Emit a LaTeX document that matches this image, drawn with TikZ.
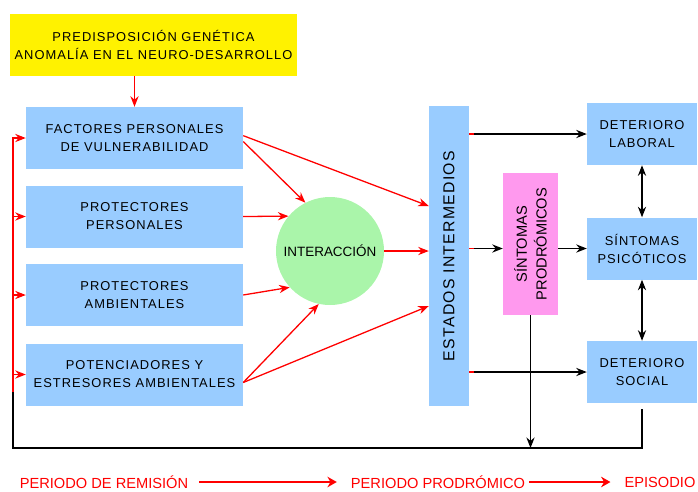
\documentclass[tikz,border=0pt]{standalone}
\usepackage{fontspec}
\setmainfont{Liberation Sans}
\newfontfamily\spacedfont[LetterSpace=8]{Liberation Sans}
\usetikzlibrary{arrows.meta, calc}
\newcommand{\pxu}{0.03cm}
\definecolor{boxblue}{RGB}{153,204,255}
\definecolor{boxpink}{RGB}{255,153,238}
\definecolor{circgreen}{RGB}{170,245,170}
\tikzset{
  bluebox/.style={fill=boxblue, minimum width=217*\pxu, minimum height=62*\pxu,
    align=center, inner sep=0pt, font=\spacedfont\fontsize{11}{15.4}\selectfont},
  rightbox/.style={bluebox, minimum width=110*\pxu},
  redarr/.style={red, line width=1.1pt, -{Stealth[length=9pt,width=7pt]}},
  blkarr/.style={black, line width=1.1pt, -{Stealth[length=9pt,width=7pt]}},
  fatarr/.style={red, line width=2.5pt, -{Stealth[length=8pt,width=9pt]}},
  redtext/.style={red, font=\fontsize{12.5}{15}\selectfont}
}

\begin{document}
\begin{tikzpicture}[x=\pxu, y=-\pxu]
  \useasboundingbox (0,0) rectangle (698,491);

  % Top box
  \node[fill=yellow, minimum width=287*\pxu, minimum height=62*\pxu, align=center,
        font=\spacedfont\fontsize{11}{16}\selectfont] (gen) at (153.5,45)
        {PREDISPOSICIÓN GENÉTICA\\ANOMALÍA EN EL NEURO-DESARROLLO};

  % Left column
  \node[bluebox] (fac) at (134.5,138) {FACTORES PERSONALES\\DE VULNERABILIDAD};
  \node[bluebox] (ppe) at (134.5,216.5) {PROTECTORES\\PERSONALES};
  \node[bluebox] (pam) at (134.5,295) {PROTECTORES\\AMBIENTALES};
  \node[bluebox] (pot) at (134.5,374.5) {POTENCIADORES Y\\ESTRESORES AMBIENTALES};

  % Interaction and intermediate states
  \node[circle, fill=circgreen, minimum size=108*\pxu, inner sep=0pt,
        font=\fontsize{11.5}{14}\selectfont] (int) at (330,251) {INTERACCIÓN};
  \node[fill=boxblue, minimum width=40*\pxu, minimum height=300*\pxu] (est) at (449,256) {};
  \node[rotate=90, font=\spacedfont\fontsize{13.5}{16}\selectfont] at (est) {ESTADOS INTERMEDIOS};
  \node[fill=boxpink, minimum width=55*\pxu, minimum height=142*\pxu] (sin) at (530.5,244) {};
  \node[rotate=90, align=center, font=\fontsize{12.5}{17}\selectfont] at (sin) {SÍNTOMAS\\PRODRÓMICOS};

  % Right column
  \node[rightbox] (lab) at (642,134) {DETERIORO\\LABORAL};
  \node[rightbox] (psi) at (642,248.5) {SÍNTOMAS\\PSICÓTICOS};
  \node[rightbox] (soc) at (642,372) {DETERIORO\\SOCIAL};

  % Red arrows
  \draw[redarr] (gen.south -| fac.north) -- (fac.north);
  \draw[redarr] ([yshift=2pt]fac.east) -- ($(est.west)+(0,-50)$);
  \draw[redarr] ([yshift=-3pt]fac.east) -- (int.117);
  \draw[redarr] (ppe.east) -- (int.140);
  \draw[redarr] (pam.east) -- (int.222);
  \draw[redarr] ([yshift=-0.24cm]pot.east) -- (int.258);
  \draw[redarr] ([yshift=-0.24cm]pot.east) -- ($(est.west)+(0,50)$);
  \draw[redarr] (int.east) -- (int.east -| est.west);

  % Black arrows
  \draw[blkarr] (est.east |- lab.west) -- (lab.west);
  \draw[blkarr] (est.east |- psi.west) -- (sin.west |- psi.west);
  \draw[blkarr] (sin.east |- psi.west) -- (psi.west);
  \draw[blkarr] (est.east |- soc.west) -- (soc.west);
  \foreach \b in {lab,psi,soc} {
    \draw[red, line width=1.1pt] (est.east |- \b.west) -- ++(5,0);
  }
  \draw[blkarr, {Stealth[length=9pt,width=7pt]}-{Stealth[length=9pt,width=7pt]}] (lab.south) -- (psi.north);
  \draw[blkarr, {Stealth[length=9pt,width=7pt]}-{Stealth[length=9pt,width=7pt]}] (psi.south) -- (soc.north);

  % Feedback loop
  \coordinate (bl) at (13,448);
  \coordinate (lft) at (13,392);
  \draw[black, line width=1.1pt] ([yshift=-5pt]soc.south) -- (soc.south |- bl) -- (bl) -- (lft);
  \draw[blkarr] (sin.south) -- (sin.south |- bl);
  \draw[redarr] (lft) -- (fac.west -| lft) -- (fac.west);
  \foreach \b in {ppe,pam,pot} {
    \draw[redarr] (\b.west -| lft) -- (\b.west);
  }

  % Periods
  \node[redtext] (rem) at (104,482) {PERIODO DE REMISIÓN};
  \node[redtext] (pro) at (438,482) {PERIODO PRODRÓMICO};
  \node[redtext] (epi) at (660,482) {EPISODIO};
  \draw[fatarr, shorten <=0.2cm, shorten >=0.3cm] (rem.east) -- (pro.west);
  \draw[fatarr, shorten >=0.3cm] (pro.east) -- (epi.west);
\end{tikzpicture}
\end{document}
